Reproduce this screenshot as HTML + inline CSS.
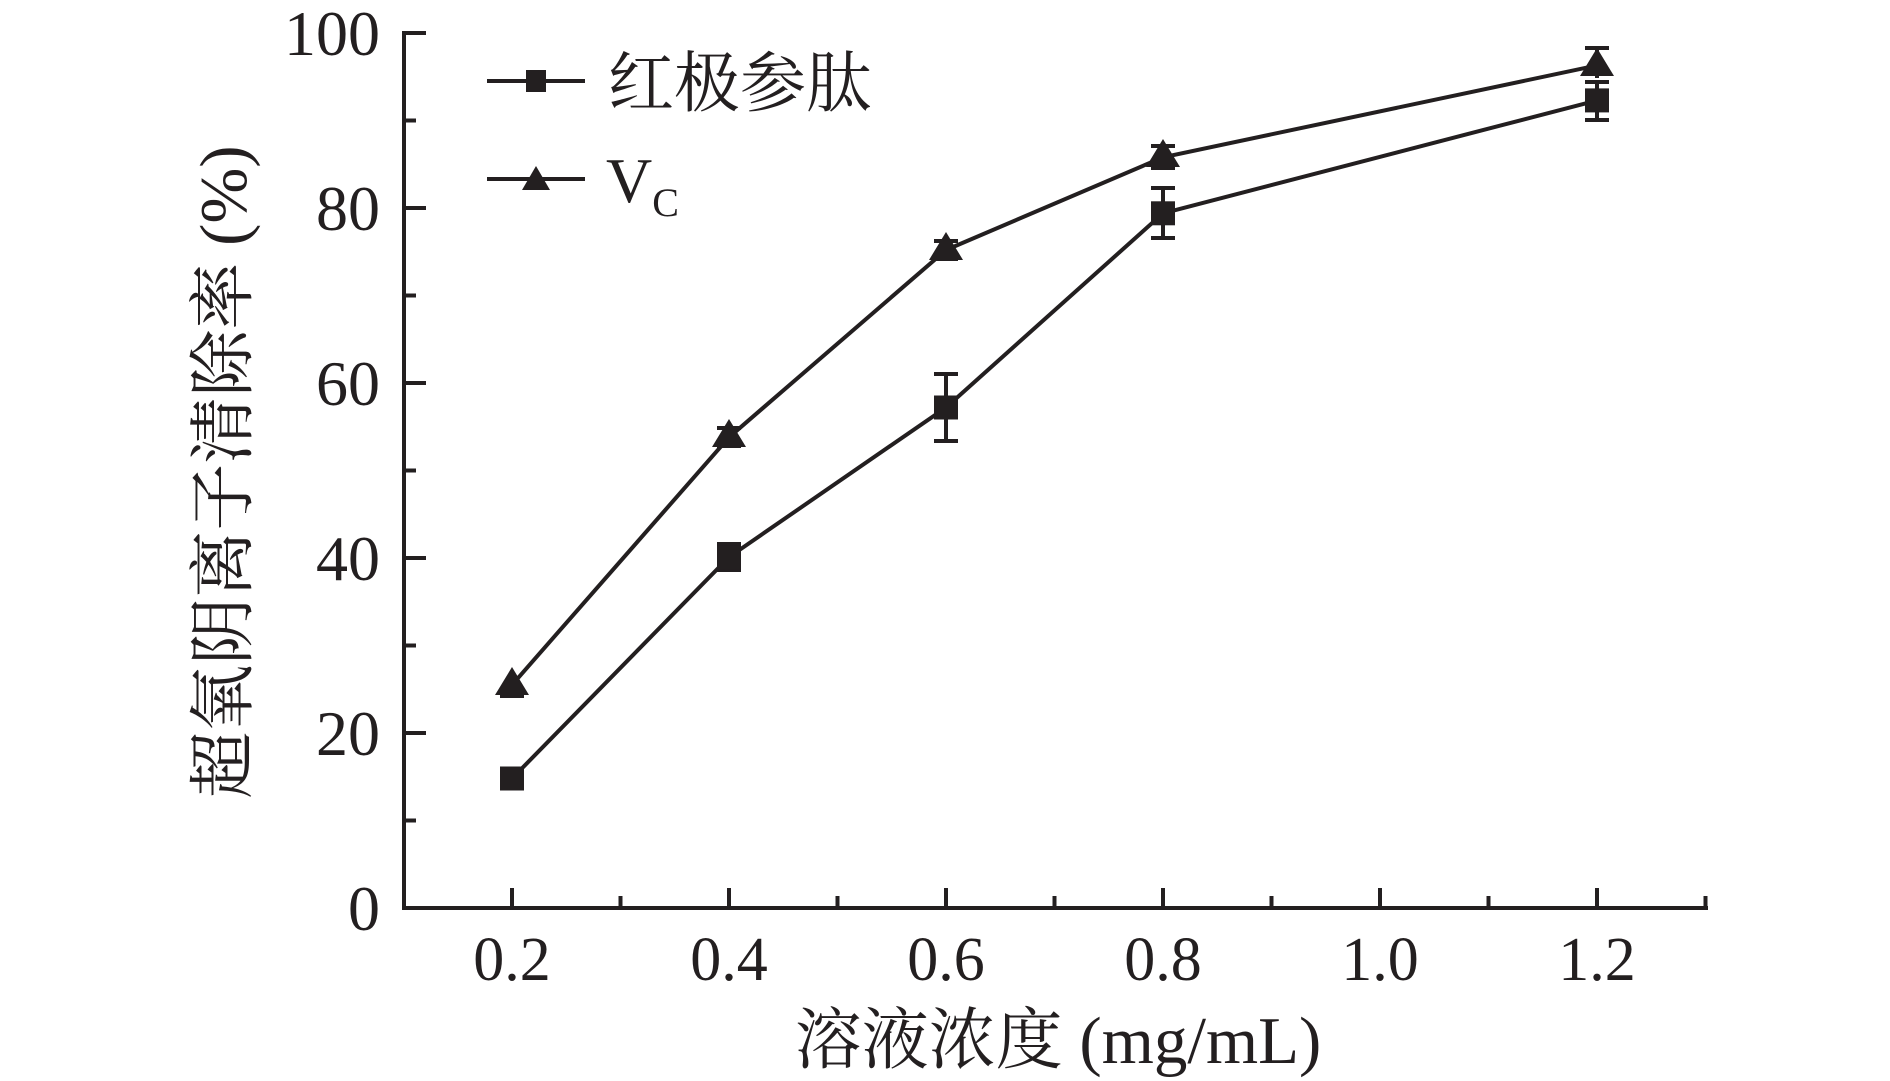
<!DOCTYPE html>
<html><head><meta charset="utf-8"><style>
html,body{margin:0;padding:0;background:#fff;}
svg{display:block;}
text{font-family:"Liberation Serif","Noto Serif CJK SC",serif;fill:#231f20;}
</style></head><body>
<svg width="1890" height="1081" viewBox="0 0 1890 1081" xmlns="http://www.w3.org/2000/svg">
<g stroke="#231f20" stroke-width="4" fill="none">
<path d="M404 31 V908 H1708"/>
<path d="M404 33 h22 M404 120.5 h12 M404 208 h22 M404 295.5 h12 M404 383 h22 M404 470.5 h12 M404 558 h22 M404 645.5 h12 M404 733 h22 M404 820.5 h12"/>
<path d="M512 908 v-20 M620.5 908 v-12 M729 908 v-20 M837.5 908 v-12 M946 908 v-20 M1054.5 908 v-12 M1163 908 v-20 M1271.5 908 v-12 M1380 908 v-20 M1488.5 908 v-12 M1597 908 v-20 M1705.5 908 v-12"/>
<polyline points="512,778.5 729,557.1 946,407.5 1163,213.3 1597,100.4"/>
<polyline points="512,684.9 729,437.3 946,250 1163,157.3 1597,65.4"/>
<path d="M729 544 v26 M717 544 h24 M717 570 h24"/>
<path d="M946 374 v67 M934 374 h24 M934 441 h24"/>
<path d="M1163 188 v50 M1151 188 h24 M1151 238 h24"/>
<path d="M1597 82 v38 M1585 82 h24 M1585 120 h24"/>
<path d="M512 675 v21 M500 696 h24"/>
<path d="M729 428 v18 M717 428 h24 M717 446 h24"/>
<path d="M946 241 v18 M934 241 h24 M934 259 h24"/>
<path d="M1163 146 v22 M1151 146 h24 M1151 168 h24"/>
<path d="M1597 48 v30 M1585 48 h24"/>
<path d="M487 81 H585 M487 179 H585"/>
</g>
<g fill="#231f20">
<rect x="500" y="766.5" width="24" height="24"/>
<rect x="717" y="545.1" width="24" height="24"/>
<rect x="934" y="395.5" width="24" height="24"/>
<rect x="1151" y="201.3" width="24" height="24"/>
<rect x="1585" y="88.4" width="24" height="24"/>
<polygon points="512,667 495,695 529,695"/>
<polygon points="729,419 712,447 746,447"/>
<polygon points="946,232 929,260 963,260"/>
<polygon points="1163,139 1146,167 1180,167"/>
<polygon points="1597,48 1580,76 1614,76"/>
<rect x="526" y="70" width="20" height="22"/>
<polygon points="536,166 522,190 550,190"/>
</g>
<g font-size="64" text-anchor="end">
<text x="380" y="55">100</text>
<text x="380" y="230">80</text>
<text x="380" y="405">60</text>
<text x="380" y="580">40</text>
<text x="380" y="755">20</text>
<text x="380" y="930">0</text>
</g>
<g font-size="62" text-anchor="middle">
<text x="512" y="980">0.2</text>
<text x="729" y="980">0.4</text>
<text x="946" y="980">0.6</text>
<text x="1163" y="980">0.8</text>
<text x="1380" y="980">1.0</text>
<text x="1597" y="980">1.2</text>
<text x="1058" y="1063" font-size="67">溶液浓度 (mg/mL)</text>
<text transform="translate(246,472) rotate(-90)" font-size="67">超氧阴离子清除率 (%)</text>
</g>
<text x="608" y="106" font-size="66">红极参肽</text>
<text x="606" y="202" font-size="64">V<tspan font-size="40" dy="14">C</tspan></text>
</svg>
</body></html>
